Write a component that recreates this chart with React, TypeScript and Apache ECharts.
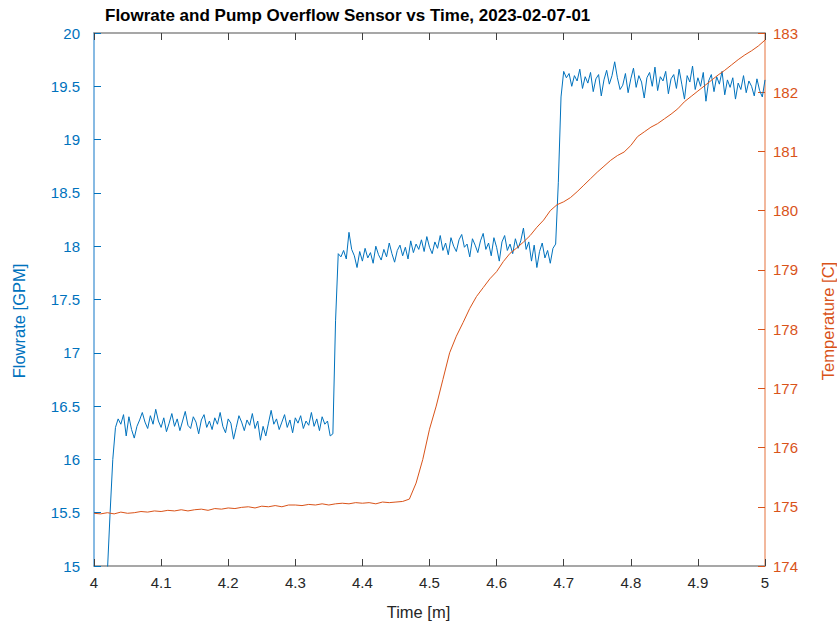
import React, { useEffect, useRef } from "react";
import * as echarts from "echarts";

const titleText = "Flowrate and Pump Overflow Sensor vs Time, 2023-02-07-01";
const xAxisTitle = "Time [m]";
const leftAxisTitle = "Flowrate [GPM]";
const rightAxisTitle = "Temperature [C]";

const timeMin = 4;
const timeMax = 5;
const timeInterval = 0.1;
const flowMin = 15;
const flowMax = 20;
const flowInterval = 0.5;
const tempMin = 174;
const tempMax = 183;
const tempInterval = 1;

// Flowrate [GPM], sampled every 0.004 min starting at 4.000 min
const flowStartTime = 4.0;
const flowSampleStep = 0.004;
const flowValues = [
  14.2, 14.3, 14.4, 14.6, 14.8, 14.95, 15.5, 16.0,
  16.30, 16.38, 16.33, 16.42, 16.22, 16.40, 16.28, 16.20, 16.31, 16.37,
  16.44, 16.35, 16.29, 16.41, 16.33, 16.47, 16.36, 16.30, 16.39, 16.26,
  16.34, 16.43, 16.31, 16.38, 16.27, 16.36, 16.45, 16.32, 16.29, 16.40,
  16.35, 16.24, 16.37, 16.42, 16.30, 16.36, 16.28, 16.39, 16.33, 16.44,
  16.31, 16.25, 16.38, 16.34, 16.19, 16.30, 16.41, 16.35, 16.27, 16.37,
  16.32, 16.43, 16.29, 16.36, 16.18, 16.31, 16.22, 16.34, 16.46, 16.33,
  16.38, 16.28, 16.35, 16.42, 16.30, 16.37, 16.25, 16.39, 16.34, 16.41,
  16.29, 16.36, 16.32, 16.44, 16.31, 16.38, 16.27, 16.40, 16.33, 16.36,
  16.22, 16.24,
  17.30,
  17.93, 17.90, 17.96, 17.88, 18.13, 17.97, 17.91, 17.80, 17.95, 17.86,
  17.98, 17.89, 17.94, 17.84, 18.00, 17.92, 17.87, 17.97, 17.90, 18.03,
  17.93, 17.85, 17.96, 18.01, 17.91, 17.99, 17.88, 18.05, 17.94, 18.02,
  17.97, 18.06, 17.95, 18.09, 17.99, 17.93, 18.04, 17.98, 18.10, 17.96,
  18.03, 17.92, 18.08, 18.00, 17.95, 18.06, 18.11, 17.99, 18.02, 17.90,
  18.07, 18.01, 17.94, 18.05, 18.12, 17.97, 18.03, 17.91, 18.08, 17.99,
  17.86, 18.04, 18.10, 17.96, 18.02, 17.93, 18.07, 17.98, 18.05, 18.17,
  17.97, 18.04, 17.86, 18.01, 17.80, 17.95, 18.03, 17.89, 17.96, 17.84,
  17.98, 18.02,
  18.60, 19.40,
  19.64, 19.58, 19.62, 19.50, 19.60, 19.55, 19.66, 19.48, 19.59, 19.53,
  19.63, 19.45, 19.57, 19.61, 19.41, 19.56, 19.65, 19.52, 19.60, 19.73,
  19.58, 19.47, 19.51, 19.62, 19.44, 19.57, 19.67, 19.49, 19.60, 19.54,
  19.39, 19.58, 19.63, 19.50, 19.68, 19.46, 19.59, 19.55, 19.64, 19.43,
  19.57, 19.61, 19.48, 19.66, 19.52, 19.38, 19.60, 19.54, 19.69, 19.47,
  19.58, 19.50, 19.63, 19.36, 19.55, 19.61, 19.45, 19.59, 19.52, 19.64,
  19.42, 19.56, 19.49, 19.58, 19.38, 19.53, 19.47, 19.60, 19.44, 19.55,
  19.50, 19.41, 19.57, 19.46, 19.40, 19.56,
];

// Temperature [C], sampled every 0.01 min starting at 4.00 min
const tempStartTime = 4.0;
const tempSampleStep = 0.01;
const tempValues = [
  174.89, 174.88, 174.90, 174.88, 174.91, 174.89, 174.90, 174.92, 174.91, 174.93,
  174.92, 174.94, 174.93, 174.95, 174.93, 174.95, 174.96, 174.94, 174.97, 174.96,
  174.98, 174.97, 174.99, 175.00, 174.98, 175.01, 175.00, 175.02, 175.00, 175.03,
  175.03, 175.02, 175.04, 175.03, 175.05, 175.03, 175.05, 175.06, 175.05, 175.07,
  175.06, 175.07, 175.05, 175.08, 175.07, 175.08, 175.09, 175.13, 175.40, 175.80,
  176.31, 176.70, 177.15, 177.60, 177.88, 178.11, 178.35, 178.55, 178.70, 178.85,
  178.97, 179.14, 179.28, 179.37, 179.47, 179.58, 179.72, 179.84, 180.00, 180.10,
  180.15, 180.22, 180.32, 180.43, 180.54, 180.65, 180.75, 180.85, 180.93, 180.99,
  181.10, 181.25, 181.33, 181.41, 181.47, 181.55, 181.63, 181.72, 181.84, 181.93,
  182.02, 182.11, 182.20, 182.29, 182.37, 182.46, 182.55, 182.63, 182.70, 182.78,
  182.88,
];

const BLUE = "#0072BD";
const ORANGE = "#D95319";
const DARK = "#262626";
const FONT = "'Liberation Sans', Arial, Helvetica, sans-serif";

const fmt = (v: number) => String(Math.round(v * 10) / 10);

export default function App() {
  const ref = useRef<HTMLDivElement>(null);

  useEffect(() => {
    if (!ref.current) return;
    const chart = echarts.init(ref.current, undefined, { renderer: "svg" });

    const flowData = flowValues.map((v, i) => [
      Math.round((flowStartTime + i * flowSampleStep) * 10000) / 10000,
      v,
    ]);
    const tempData = tempValues.map((v, i) => [
      Math.round((tempStartTime + i * tempSampleStep) * 10000) / 10000,
      v,
    ]);

    const xAxisCommon = {
      type: "value",
      min: timeMin,
      max: timeMax,
      interval: timeInterval,
      splitLine: { show: false },
      axisLine: { show: true, onZero: false, lineStyle: { color: "#8a8a8a", width: 1.5 } },
      axisTick: { show: true, inside: true, length: 7, lineStyle: { color: "#404040", width: 1 } },
    };

    chart.setOption({
      animation: false,
      backgroundColor: "#ffffff",
      grid: { left: 94, right: 72, top: 33, bottom: 59, containLabel: false },
      xAxis: [
        {
          ...xAxisCommon,
          position: "bottom",
          axisLabel: {
            show: true,
            margin: 9,
            color: DARK,
            fontSize: 15,
            fontFamily: FONT,
            formatter: (v: number) => fmt(v),
          },
        },
        {
          ...xAxisCommon,
          position: "top",
          axisLabel: { show: false },
        },
      ],
      yAxis: [
        {
          type: "value",
          position: "left",
          min: flowMin,
          max: flowMax,
          interval: flowInterval,
          splitLine: { show: false },
          axisLine: { show: true, onZero: false, lineStyle: { color: "#5fa3da", width: 1.5 } },
          axisTick: { show: true, inside: true, length: 7, lineStyle: { color: BLUE, width: 1 } },
          axisLabel: {
            margin: 14,
            color: BLUE,
            fontSize: 15,
            fontFamily: FONT,
            formatter: (v: number) => fmt(v),
          },
        },
        {
          type: "value",
          position: "right",
          min: tempMin,
          max: tempMax,
          interval: tempInterval,
          splitLine: { show: false },
          axisLine: { show: true, onZero: false, lineStyle: { color: "#eea07c", width: 1.5 } },
          axisTick: { show: true, inside: true, length: 7, lineStyle: { color: ORANGE, width: 1 } },
          axisLabel: {
            margin: 8,
            color: ORANGE,
            fontSize: 15,
            fontFamily: FONT,
            formatter: (v: number) => String(v),
          },
        },
      ],
      series: [
        {
          name: "Flowrate",
          type: "line",
          xAxisIndex: 0,
          yAxisIndex: 0,
          data: flowData,
          showSymbol: false,
          symbol: "none",
          clip: true,
          lineStyle: { color: BLUE, width: 1 },
          itemStyle: { color: BLUE },
          z: 2,
        },
        {
          name: "Temperature",
          type: "line",
          xAxisIndex: 0,
          yAxisIndex: 1,
          data: tempData,
          showSymbol: false,
          symbol: "none",
          clip: true,
          lineStyle: { color: ORANGE, width: 1 },
          itemStyle: { color: ORANGE },
          z: 3,
        },
      ],
      graphic: [
        {
          type: "text",
          x: 105,
          y: 15,
          style: {
            text: titleText,
            fill: "#000000",
            font: `bold 17px ${FONT}`,
            textAlign: "left",
            textVerticalAlign: "middle",
            align: "left",
            verticalAlign: "middle",
          },
        },
        {
          type: "text",
          x: 418.5,
          y: 611.5,
          style: {
            text: xAxisTitle,
            fill: DARK,
            font: `16.5px ${FONT}`,
            textAlign: "center",
            textVerticalAlign: "middle",
            align: "center",
            verticalAlign: "middle",
          },
        },
        {
          type: "text",
          x: 19,
          y: 321,
          rotation: Math.PI / 2,
          style: {
            text: leftAxisTitle,
            fill: BLUE,
            font: `16.5px ${FONT}`,
            textAlign: "center",
            textVerticalAlign: "middle",
            align: "center",
            verticalAlign: "middle",
          },
        },
        {
          type: "text",
          x: 828,
          y: 321,
          rotation: Math.PI / 2,
          style: {
            text: rightAxisTitle,
            fill: ORANGE,
            font: `16.5px ${FONT}`,
            textAlign: "center",
            textVerticalAlign: "middle",
            align: "center",
            verticalAlign: "middle",
          },
        },
      ],
    });

    return () => {
      chart.dispose();
    };
  }, []);

  return (
    <div
      ref={ref}
      style={{ position: "absolute", left: 0, top: 0, width: 837, height: 625 }}
    />
  );
}
